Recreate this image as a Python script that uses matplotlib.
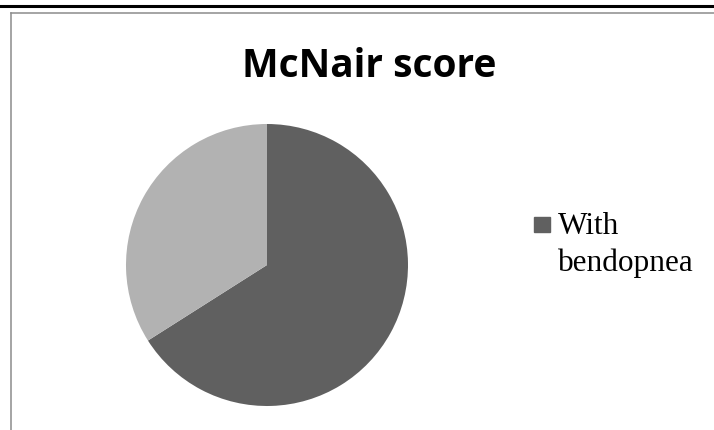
import matplotlib
matplotlib.use("Agg")
import matplotlib.pyplot as plt
from matplotlib.lines import Line2D
from matplotlib.patches import Rectangle

# data
labels = ["With bendopnea", "Without bendopnea"]
values = [66, 34]
colors = ["#606060", "#b2b2b2"]
title = "McNair score"

W, H = 714, 430
fig = plt.figure(figsize=(W / 100, H / 100), dpi=100)


def fx(px):
    return px / W


def fy(py):
    return 1 - py / H


# page rule and the chart frame (only its top and left edges are visible)
fig.add_artist(Line2D([0, 1], [fy(5.5), fy(5.5)], color="black", lw=2.2))
fig.add_artist(Line2D([fx(11.5), 1], [fy(12.5), fy(12.5)], color="#8c8c8c", lw=1.1))
fig.add_artist(Line2D([fx(11.5), fx(11.5)], [fy(12.5), 0], color="#8c8c8c", lw=1.1))

fig.text(fx(369), fy(77), title, family="Open Sans", weight="bold", fontsize=28,
         ha="center", va="baseline")

# pie
cx, cy, r = 267, 265, 141
ax = fig.add_axes([fx(cx - r), fy(cy + r), 2 * r / W, 2 * r / H])
ax.pie(values, colors=colors, startangle=90, counterclock=False,
       wedgeprops=dict(linewidth=0))
ax.set_xlim(-1, 1)
ax.set_ylim(-1, 1)
ax.set_aspect("equal")
ax.axis("off")

# legend (first entry only fits inside the frame)
fig.add_artist(Rectangle((fx(534), fy(232)), 16 / W, 15 / H, color=colors[0],
                         transform=fig.transFigure))
fig.text(fx(558), fy(234), "With", family="Liberation Serif",
         fontsize=22.5, ha="left", va="baseline")
fig.text(fx(558), fy(271), "bendopnea", family="Liberation Serif",
         fontsize=22.5, ha="left", va="baseline")

fig.savefig("out.png", dpi=100)
